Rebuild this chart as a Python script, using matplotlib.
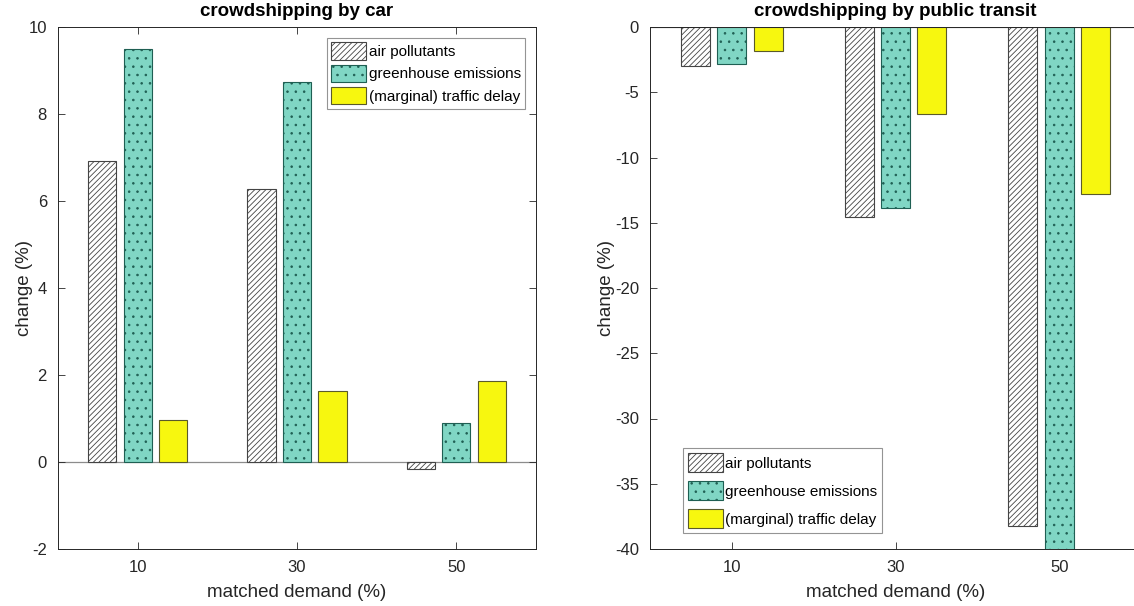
import numpy as np
import matplotlib
matplotlib.use("Agg")
import matplotlib.pyplot as plt

plt.rcParams['font.family'] = ['Liberation Sans', 'DejaVu Sans']
plt.rcParams['hatch.linewidth'] = 0.6
plt.rcParams['axes.unicode_minus'] = False

# datos
demanda = [10, 30, 50]
series = ["air pollutants", "greenhouse emissions", "(marginal) traffic delay"]

car_air = [6.92, 6.27, -0.16]
car_ghg = [9.49, 8.73, 0.89]
car_delay = [0.96, 1.63, 1.87]

pt_air = [-3.02, -14.53, -38.26]
pt_ghg = [-2.87, -13.87, -40.3]
pt_delay = [-1.87, -6.63, -12.83]

# estilos (blanco rayado, turquesa punteado, amarillo)
estilos = [
    dict(facecolor="white", edgecolor="#444444", hatch="//////"),
    dict(facecolor="#80d6c4", edgecolor="#1f5f53", hatch=".."),
    dict(facecolor="#f7f70f", edgecolor="#5a5a2a", hatch=None),
]

gris = "#262626"
ancho = 3.556
desplaz = [-4.444, 0.0, 4.444]

fig = plt.figure(figsize=(11.34, 6.06), dpi=100)
ax1 = fig.add_axes([58 / 1134, 57 / 606, 478 / 1134, 522 / 606])
ax2 = fig.add_axes([650 / 1134, 57 / 606, 491 / 1134, 522 / 606])


def dibujar(ax, datos, titulo, yticks, ylim, pad_y):
    x = np.array(demanda)
    for i, vals in enumerate(datos):
        ax.bar(x + desplaz[i], vals, width=ancho, linewidth=0.8,
               label=series[i], zorder=2, **estilos[i])
    ax.axhline(0, color="#8c8c8c", linewidth=0.9, zorder=1)
    ax.set_xlim(0, 60)
    ax.set_ylim(*ylim)
    ax.set_xticks(demanda)
    ax.set_xticklabels([str(d) for d in demanda])
    ax.set_yticks(yticks)
    ax.tick_params(direction="in", length=5, width=0.6, colors=gris,
                   labelsize=12, top=True, right=True, pad=8)
    for s in ax.spines.values():
        s.set_color(gris)
        s.set_linewidth(0.7)
    ax.set_title(titulo, fontsize=13.5, fontweight="bold", pad=8)
    ax.set_xlabel("matched demand (%)", fontsize=13.5, color=gris, labelpad=6.5)
    ax.set_ylabel("change (%)", fontsize=13.5, color=gris, labelpad=pad_y)


dibujar(ax1, [car_air, car_ghg, car_delay], "crowdshipping by car",
        np.arange(-2, 11, 2), (-2, 10), -3)
dibujar(ax2, [pt_air, pt_ghg, pt_delay], "crowdshipping by public transit",
        np.arange(-40, 1, 5), (-40, 0), 0)

leg1 = ax1.legend(loc="upper right", fontsize=11, frameon=True, fancybox=False,
                  handlelength=2.3, handleheight=1.4, handletextpad=0.15,
                  borderpad=0.3, labelspacing=0.3, borderaxespad=0.7)
leg2 = ax2.legend(loc="lower left", bbox_to_anchor=(33 / 491, 16 / 522),
                  fontsize=11, frameon=True, fancybox=False,
                  handlelength=2.3, handleheight=1.6, handletextpad=0.15,
                  borderpad=0.3, labelspacing=0.55, borderaxespad=0)
for leg in (leg1, leg2):
    leg.get_frame().set_edgecolor("#7a7a7a")
    leg.get_frame().set_linewidth(0.8)

fig.savefig("out.png", dpi=100)
